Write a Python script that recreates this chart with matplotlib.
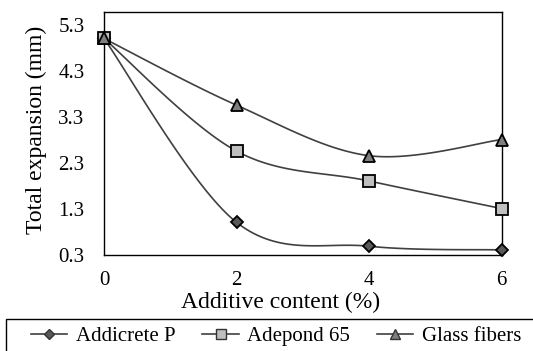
import numpy as np
import matplotlib
matplotlib.use("Agg")
import matplotlib.pyplot as plt
from matplotlib.patches import Rectangle

plt.rcParams['font.family'] = ['Liberation Serif', 'DejaVu Serif']

# Additive content (%) and measured total expansion (mm)
additive = [0, 2, 4, 6]
addicrete_p = [5.0, 1.0, 0.48, 0.4]
adepond_65 = [5.0, 2.55, 1.9, 1.3]
glass_fibers = [5.0, 3.55, 2.45, 2.8]

series_names = ["Addicrete P", "Adepond 65", "Glass fibers"]
y_ticks = [0.3, 1.3, 2.3, 3.3, 4.3, 5.3]
x_ticks = [0, 2, 4, 6]


def smooth(xs, ys, n=40):
    """Cubic Bezier smoothing through every point (Catmull-Rom style)."""
    p = np.column_stack([xs, ys]).astype(float)
    pts = np.vstack([p[0], p, p[-1]])
    out = []
    t = np.linspace(0, 1, n)[:, None]
    for i in range(1, len(pts) - 2):
        p0, p1, p2, p3 = pts[i - 1], pts[i], pts[i + 1], pts[i + 2]
        c1 = p1 + (p2 - p0) / 6.0
        c2 = p2 - (p3 - p1) / 6.0
        seg = ((1 - t) ** 3) * p1 + 3 * ((1 - t) ** 2) * t * c1 \
            + 3 * (1 - t) * t ** 2 * c2 + t ** 3 * p2
        out.append(seg if i == 1 else seg[1:])
    out = np.vstack(out)
    return out[:, 0], out[:, 1]


fig = plt.figure(figsize=(5.33, 3.51), dpi=100)
ax = fig.add_axes([104 / 533, 1 - 254.5 / 351, 397.5 / 533, 242.2 / 351])

line_color = "#404040"
styles = [
    dict(marker="D", ms=6.5, mfc="#595959"),
    dict(marker="s", ms=8, mfc="#bfbfbf"),
    dict(marker="^", ms=8.5, mfc="#7f7f7f"),
]

handles = []
for ys, name, st in zip([addicrete_p, adepond_65, glass_fibers], series_names, styles):
    sx, sy = smooth(additive, ys)
    ax.plot(sx, sy, color=line_color, lw=1.2, zorder=2, clip_on=False)
    ax.plot(additive, ys, linestyle="none", marker=st["marker"], ms=st["ms"],
            mfc=st["mfc"], mec="black", mew=1.3, zorder=3, clip_on=False)
    h, = ax.plot([], [], color=line_color, lw=1.2, marker=st["marker"],
                 ms=st["ms"] * 0.85, mfc=st["mfc"], mec="#333333", mew=1.0)
    handles.append(h)

ax.set_xlim(0, 6)
ax.set_ylim(0.3, 5.57)
ax.set_xticks(x_ticks)
ax.set_xticklabels([str(v) for v in x_ticks])
ax.set_yticks(y_ticks)
ax.set_yticklabels([f"{v:.1f}" for v in y_ticks])
ax.tick_params(axis="both", length=0, labelsize=15, colors="black")
ax.tick_params(axis="x", pad=12)
ax.tick_params(axis="y", pad=14)

for sp in ax.spines.values():
    sp.set_color("black")
    sp.set_linewidth(1.0)

ax.set_xlabel("Additive content (%)", fontsize=17, va="center")
ax.xaxis.set_label_coords(0.443, -0.2)
ax.set_ylabel("Total expansion (mm)", fontsize=17, va="center")
ax.yaxis.set_label_coords(-0.169, 0.514)

# Legend box along the bottom edge
fig.patches.append(Rectangle((6 / 533, -0.2), 1.2, 0.2 + (1 - 319.3 / 351),
                             transform=fig.transFigure, fill=False,
                             edgecolor="black", lw=1.0, clip_on=False))
fig.legend(handles, series_names, loc="center", ncol=3, frameon=False,
           bbox_to_anchor=(276 / 533, 1 - 336.7 / 351), fontsize=15,
           handlelength=1.75, handletextpad=0.4, columnspacing=1.3,
           borderpad=0, borderaxespad=0)

fig.savefig("out.png", dpi=100, facecolor="white")
